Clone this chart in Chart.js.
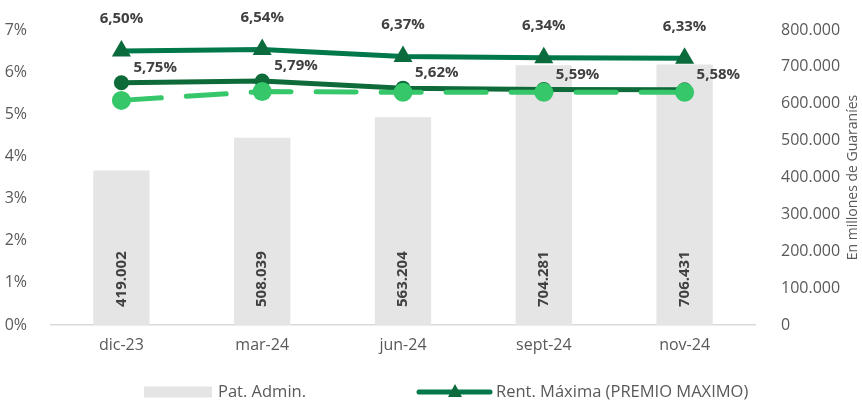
<!DOCTYPE html>
<html>
<head>
<meta charset="utf-8">
<script src="https://cdn.jsdelivr.net/npm/chart.js@4.4.1/dist/chart.umd.min.js"></script>
<style>
  html, body { margin: 0; padding: 0; background: #fff; }
  #wrap { width: 862px; height: 401px; position: relative; }
</style>
</head>
<body>
<div id="wrap"><canvas id="myChart"></canvas></div>
<script>
//////////////// DATOS /////////////////////////////////
var meses = ['dic-23', 'mar-24', 'jun-24', 'sept-24', 'nov-24'];
var patAdmin = [419002, 508039, 563204, 704281, 706431];
var rentMaxima = [6.50, 6.54, 6.37, 6.34, 6.33];
var rentPromedio = [5.75, 5.79, 5.62, 5.59, 5.58];
var rentMinima = [5.33, 5.54, 5.52, 5.52, 5.52];
var ticksPct = [0, 1, 2, 3, 4, 5, 6, 7];
var ticksGs = [0, 100000, 200000, 300000, 400000, 500000, 600000, 700000, 800000];

var FUENTE = '"Open Sans", "Liberation Sans", sans-serif';
var GRIS = '#595959';

function fmtMiles(v) {
  return String(v).replace(/\B(?=(\d{3})+(?!\d))/g, '.');
}
function fmtPct(v) {
  return v.toFixed(2).replace('.', ',') + '%';
}

//////////////// ETIQUETAS Y LEYENDA /////////////////////////////////
var etiquetas = {
  id: 'etiquetas',
  afterDatasetsDraw: function (chart) {
    var ctx = chart.ctx;
    ctx.save();
    ctx.fillStyle = '#404040';
    ctx.font = 'bold 15px ' + FUENTE;

    // valores de las barras, girados
    chart.getDatasetMeta(3).data.forEach(function (bar, i) {
      ctx.save();
      ctx.translate(bar.x, bar.base - 18);
      ctx.rotate(-Math.PI / 2);
      ctx.textAlign = 'left';
      ctx.textBaseline = 'middle';
      ctx.fillText(fmtMiles(patAdmin[i]), 0, 0);
      ctx.restore();
    });

    // rentabilidad maxima, encima
    ctx.textAlign = 'center';
    ctx.textBaseline = 'middle';
    chart.getDatasetMeta(0).data.forEach(function (p, i) {
      ctx.fillText(fmtPct(rentMaxima[i]), p.x, p.y - 32);
    });

    // rentabilidad promedio, arriba a la derecha
    ctx.textAlign = 'left';
    chart.getDatasetMeta(1).data.forEach(function (p, i) {
      ctx.fillText(fmtPct(rentPromedio[i]), p.x + 12, p.y - 15);
    });
    ctx.restore();
  },
  afterDraw: function (chart) {
    var ctx = chart.ctx;
    var ds = chart.data.datasets;
    var area = chart.chartArea;
    ctx.save();
    ctx.fillStyle = GRIS;
    ctx.textBaseline = 'middle';

    // titulo eje derecho (se lee de abajo hacia arriba)
    ctx.font = '14px ' + FUENTE;
    ctx.save();
    ctx.translate(853, (area.top + area.bottom) / 2);
    ctx.rotate(-Math.PI / 2);
    ctx.textAlign = 'center';
    ctx.fillText('En millones de Guaraníes', 0, 0);
    ctx.restore();

    // leyenda
    var ly = 392;
    ctx.font = '16.5px ' + FUENTE;
    ctx.fillStyle = ds[3].backgroundColor;
    ctx.fillRect(144, ly - 5.5, 68, 11);
    ctx.fillStyle = GRIS;
    ctx.textAlign = 'left';
    ctx.fillText(ds[3].label, 218, ly);

    ctx.strokeStyle = ds[0].borderColor;
    ctx.lineWidth = 5;
    ctx.lineCap = 'round';
    ctx.beginPath();
    ctx.moveTo(419, ly);
    ctx.lineTo(490, ly);
    ctx.stroke();
    ctx.fillStyle = ds[0].pointBackgroundColor;
    ctx.beginPath();
    ctx.moveTo(455, ly - 8);
    ctx.lineTo(462, ly + 5);
    ctx.lineTo(448, ly + 5);
    ctx.closePath();
    ctx.fill();
    ctx.fillStyle = GRIS;
    ctx.fillText(ds[0].label, 496, ly);
    ctx.restore();
  }
};

//////////////// GRAFICO /////////////////////////////////
var ctx = document.getElementById('myChart').getContext('2d');
var chart = new Chart(ctx, {
  type: 'bar',
  data: {
    labels: meses,
    datasets: [
      {
        type: 'line',
        label: 'Rent. Máxima (PREMIO MAXIMO)',
        data: rentMaxima,
        yAxisID: 'y',
        borderColor: '#00784A',
        borderWidth: 5,
        pointStyle: 'triangle',
        pointRadius: 11,
        pointBorderWidth: 0,
        pointBackgroundColor: '#0B6B3C',
        tension: 0,
        order: 1
      },
      {
        type: 'line',
        label: 'Rent. Promedio',
        data: rentPromedio,
        yAxisID: 'y',
        borderColor: '#0E6B39',
        borderWidth: 5,
        pointRadius: 7.5,
        pointBorderWidth: 0,
        pointBackgroundColor: '#0E6B39',
        tension: 0,
        order: 3
      },
      {
        type: 'line',
        label: 'Rent. Mínima',
        data: rentMinima,
        yAxisID: 'y',
        borderColor: '#35C76A',
        borderWidth: 5,
        borderDash: [40, 25],
        borderCapStyle: 'round',
        pointRadius: 9.5,
        pointBorderWidth: 0,
        pointBackgroundColor: '#35C76A',
        tension: 0,
        order: 2
      },
      {
        type: 'bar',
        label: 'Pat. Admin.',
        data: patAdmin,
        yAxisID: 'y1',
        backgroundColor: '#E5E5E5',
        barPercentage: 0.4,
        categoryPercentage: 1,
        order: 4
      }
    ]
  },
  options: {
    responsive: true,
    maintainAspectRatio: false,
    animation: false,
    layout: { padding: { top: 30, left: 0, right: 0, bottom: 0 } },
    plugins: {
      legend: { display: false },
      tooltip: { enabled: false }
    },
    scales: {
      x: {
        grid: { display: false, drawTicks: false },
        border: { color: '#D9D9D9', width: 1.5 },
        ticks: { color: GRIS, font: { size: 16, family: FUENTE }, padding: 11 },
        afterFit: function (s) { s.height = 76; }
      },
      y: {
        position: 'left',
        min: ticksPct[0],
        max: ticksPct[ticksPct.length - 1],
        grid: { display: false },
        border: { display: false },
        ticks: {
          stepSize: 1,
          color: GRIS,
          padding: 16,
          font: { size: 16, family: FUENTE },
          callback: function (v) { return v + '%'; }
        },
        afterFit: function (s) { s.width = 51; }
      },
      y1: {
        position: 'right',
        min: ticksGs[0],
        max: ticksGs[ticksGs.length - 1],
        grid: { display: false },
        border: { display: false },
        ticks: {
          stepSize: 100000,
          color: GRIS,
          padding: 18,
          font: { size: 16, family: FUENTE },
          callback: function (v) { return fmtMiles(v); }
        },
        afterFit: function (s) { s.width = 107; }
      }
    }
  },
  plugins: [etiquetas]
});
</script>
</body>
</html>
